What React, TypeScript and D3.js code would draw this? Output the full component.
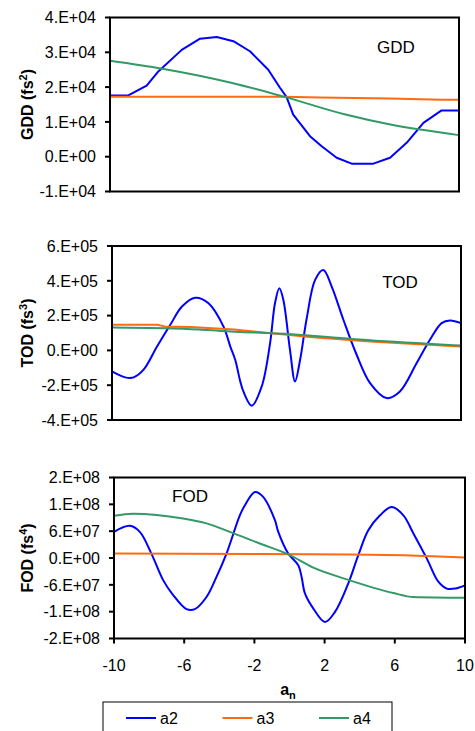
import React from 'react';
import * as d3 from 'd3';

// ---------- data ----------
const xTickValues = [-10, -6, -2, 2, 6, 10];
const xTickLabels = ['-10', '-6', '-2', '2', '6', '10'];

const seriesNames = ['a2', 'a3', 'a4'];
const seriesColors = ['#0000ff', '#ff6a13', '#339966'];

// GDD panel (fs^2)
const gddTicks = [4e4, 3e4, 2e4, 1e4, 0, -1e4];
const gddTickLabels = ['4.E+04', '3.E+04', '2.E+04', '1.E+04', '0.E+00', '-1.E+04'];
const gddA2X = [-10, -8.95, -7.9, -7.23, -5.89, -4.84, -3.88, -2.93, -1.98, -0.93, -0.26, 0.12, 0.5, 1.46, 2.13, 2.99, 3.85, 5.09, 6.05, 7.0, 7.96, 9.0, 10];
const gddA2Y = [1.76e4, 1.76e4, 2.04e4, 2.45e4, 3.07e4, 3.39e4, 3.44e4, 3.32e4, 3.03e4, 2.5e4, 1.98e4, 1.71e4, 1.21e4, 0.59e4, 0.3e4, -0.03e4, -0.2e4, -0.2e4, -0.03e4, 0.4e4, 0.97e4, 1.33e4, 1.33e4];
const gddA3X = [-10, 0, 2, 6, 9, 10];
const gddA3Y = [1.72e4, 1.72e4, 1.70e4, 1.67e4, 1.64e4, 1.64e4];
const gddA4X = [-10, -7, -3, 0, 3.5, 6, 10];
const gddA4Y = [2.76e4, 2.53e4, 2.12e4, 1.72e4, 1.21e4, 0.93e4, 0.62e4];

// TOD panel (fs^3)
const todTicks = [6e5, 4e5, 2e5, 0, -2e5, -4e5];
const todTickLabels = ['6.E+05', '4.E+05', '2.E+05', '0.E+00', '-2.E+05', '-4.E+05'];
const todA2X = [-10, -9.24, -8.76, -8.19, -7.42, -6.66, -5.99, -5.23, -4.47, -3.61, -3.22, -2.94, -2.65, -2.47, -1.99, -1.42, -0.94, -0.66, -0.41, -0.18, 0.2, 0.49, 0.78, 1.16, 1.64, 2.11, 2.59, 3.26, 4.02, 4.79, 5.74, 6.5, 7.46, 8.22, 8.89, 9.37, 10];
const todA2Y = [-1.21e5, -1.55e5, -1.55e5, -1.11e5, 0.22e5, 1.47e5, 2.52e5, 3.03e5, 2.71e5, 1.37e5, 0.22e5, -0.54e5, -1.78e5, -2.36e5, -3.18e5, -2.07e5, 0.42e5, 2.71e5, 3.57e5, 2.9e5, 0.03e5, -1.78e5, -0.54e5, 1.85e5, 4.05e5, 4.62e5, 3.67e5, 1.76e5, -0.25e5, -1.88e5, -2.74e5, -2.36e5, -0.73e5, 0.61e5, 1.57e5, 1.72e5, 1.57e5];
const todA3X = [-10, -7.4, -7, -5.5, -4, -3, 1.5, 4.8, 7.1, 10];
const todA3Y = [1.47e5, 1.47e5, 1.38e5, 1.34e5, 1.26e5, 1.2e5, 0.76e5, 0.51e5, 0.38e5, 0.22e5];
const todA4X = [-10, -7, -5, -3.8, 0.3, 3.74, 8.1, 10];
const todA4Y = [1.32e5, 1.28e5, 1.2e5, 1.12e5, 0.93e5, 0.65e5, 0.38e5, 0.28e5];

// FOD panel (fs^4)
const fodTicks = [2e8, 1.3333e8, 6.6667e7, 0, -6.6667e7, -1.3333e8, -2e8];
const fodTickLabels = ['2.E+08', '1.E+08', '6.E+07', '0.E+00', '-6.E+07', '-1.E+08', '-2.E+08'];
const fodA2X = [-10, -9.1, -8.53, -7.87, -7.2, -6.63, -5.87, -5.39, -4.73, -4.16, -3.59, -2.83, -2.54, -1.97, -1.5, -0.83, -0.64, -0.07, 0.5, 0.69, 0.88, 1.35, 2.02, 2.59, 3.35, 3.92, 4.49, 5.16, 5.82, 6.49, 7.06, 7.82, 8.48, 8.96, 9.44, 10];
const fodA2Y = [0.65e8, 0.8e8, 0.65e8, 0.11e8, -0.55e8, -0.92e8, -1.27e8, -1.27e8, -0.97e8, -0.47e8, 0.11e8, 1.06e8, 1.31e8, 1.64e8, 1.52e8, 0.94e8, 0.65e8, 0.11e8, -0.18e8, -0.47e8, -0.88e8, -1.25e8, -1.59e8, -1.34e8, -0.63e8, 0.07e8, 0.69e8, 1.06e8, 1.27e8, 1.06e8, 0.61e8, -0.01e8, -0.59e8, -0.76e8, -0.76e8, -0.68e8];
const fodA3X = [-10, -1.5, 3.5, 6.5, 8.5, 10];
const fodA3Y = [0.11e8, 0.1e8, 0.09e8, 0.07e8, 0.04e8, 0.01e8];
const fodA4X = [-10, -8.92, -6.06, -4.73, -3.4, -1.69, -0.07, 1.36, 3.26, 5.92, 7.06, 10];
const fodA4Y = [1.05e8, 1.1e8, 0.98e8, 0.86e8, 0.65e8, 0.36e8, 0.09e8, -0.24e8, -0.53e8, -0.87e8, -0.97e8, -0.99e8];

const zip = (xs: number[], ys: number[]) => xs.map((x, i) => [x, ys[i]] as [number, number]);

const FONT = 'Liberation Sans, Arial, sans-serif';

type PanelProps = {
  left: number; right: number; top: number; bottom: number;
  ticks: number[]; tickLabels: string[];
  title: string; sup: string; label: string; labelX: number; labelY: number;
  series: [number, number][][];
  curves: any[];
  showX: boolean;
};

function Panel(p: PanelProps) {
  const x = d3.scaleLinear().domain([-10, 10]).range([p.left, p.right]);
  const y = d3.scaleLinear().domain([p.ticks[p.ticks.length - 1], p.ticks[0]]).range([p.bottom, p.top]);
  const cy = (p.top + p.bottom) / 2;
  return (
    <g>
      {p.series.map((s, i) => {
        const line = d3.line<[number, number]>().x(d => x(d[0])).y(d => y(d[1])).curve(p.curves[i]);
        return <path key={i} d={line(s) || ''} fill="none" stroke={seriesColors[i]} strokeWidth={2} strokeLinejoin="round" />;
      })}
      <rect x={p.left} y={p.top} width={p.right - p.left} height={p.bottom - p.top} fill="none" stroke="#000" strokeWidth={2} />
      {p.ticks.map((t, i) => (
        <g key={i}>
          <line x1={p.left - 5} x2={p.left} y1={y(t)} y2={y(t)} stroke="#000" strokeWidth={2} />
          <text x={p.left - 14} y={y(t)} dy="0.36em" textAnchor="end" fontSize={16} fontFamily={FONT} fill="#000">{p.tickLabels[i]}</text>
        </g>
      ))}
      {p.showX && xTickValues.map((t, i) => (
        <g key={'x' + i}>
          <line x1={x(t)} x2={x(t)} y1={p.bottom} y2={p.bottom + 5} stroke="#000" strokeWidth={2} />
          <text x={x(t)} y={p.bottom + 32} textAnchor="middle" fontSize={16} fontFamily={FONT} fill="#000">{xTickLabels[i]}</text>
        </g>
      ))}
      <text transform={`translate(33,${cy}) rotate(-90)`} textAnchor="middle" fontSize={16} fontWeight="bold" fontFamily={FONT} fill="#000">
        {p.title} (fs<tspan fontSize={11} dy={-6}>{p.sup}</tspan><tspan dy={6}>)</tspan>
      </text>
      <text x={p.labelX} y={p.labelY} dy="0.36em" textAnchor="middle" fontSize={17} fontFamily={FONT} fill="#000">{p.label}</text>
    </g>
  );
}

export default function App() {
  const cr = d3.curveCatmullRom.alpha(0.5);
  return (
    <svg width={475} height={731} style={{ position: 'absolute', left: 0, top: 0, background: '#fff' }}>
      <rect width={475} height={731} fill="#fff" />
      <Panel left={110} right={459} top={17.5} bottom={191.5}
        ticks={gddTicks} tickLabels={gddTickLabels}
        title="GDD" sup="2" label="GDD" labelX={396} labelY={47}
        series={[zip(gddA2X, gddA2Y), zip(gddA3X, gddA3Y), zip(gddA4X, gddA4Y)]}
        curves={[d3.curveLinear, d3.curveLinear, d3.curveMonotoneX]} showX={false} />
      <Panel left={112} right={461} top={246} bottom={420}
        ticks={todTicks} tickLabels={todTickLabels}
        title="TOD" sup="3" label="TOD" labelX={400} labelY={282}
        series={[zip(todA2X, todA2Y), zip(todA3X, todA3Y), zip(todA4X, todA4Y)]}
        curves={[cr, d3.curveLinear, d3.curveMonotoneX]} showX={false} />
      <Panel left={114} right={465} top={477.5} bottom={638.5}
        ticks={fodTicks} tickLabels={fodTickLabels}
        title="FOD" sup="4" label="FOD" labelX={190} labelY={496}
        series={[zip(fodA2X, fodA2Y), zip(fodA3X, fodA3Y), zip(fodA4X, fodA4Y)]}
        curves={[cr, d3.curveLinear, d3.curveMonotoneX]} showX={true} />
      <text x={288} y={695} textAnchor="middle" fontSize={16} fontWeight="bold" fontFamily={FONT} fill="#000">
        a<tspan fontSize={11} dy={4}>n</tspan>
      </text>
      <rect x={103} y={702} width={289} height={40} fill="#fff" stroke="#000" strokeWidth={1} />
      {seriesNames.map((n, i) => (
        <g key={n}>
          <line x1={126 + i * 96.5} x2={156 + i * 96.5} y1={718} y2={718} stroke={seriesColors[i]} strokeWidth={2} />
          <text x={160 + i * 96.5} y={718} dy="0.36em" fontSize={16} fontFamily={FONT} fill="#000">{n}</text>
        </g>
      ))}
    </svg>
  );
}
